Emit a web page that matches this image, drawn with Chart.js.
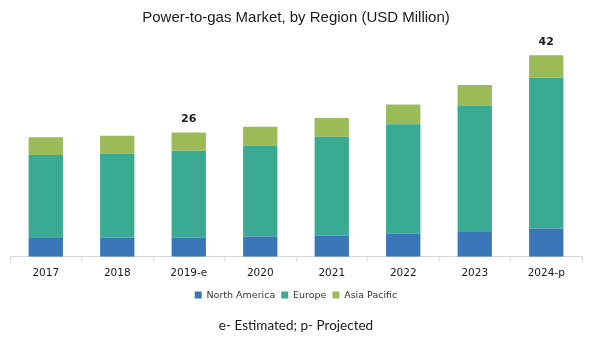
<!DOCTYPE html>
<html>
<head>
<meta charset="utf-8">
<script src="https://cdn.jsdelivr.net/npm/chart.js@4/dist/chart.umd.min.js"></script>
<style>
  html, body { margin: 0; padding: 0; background: #fff; }
  #wrap { width: 590px; height: 344px; }
</style>
</head>
<body>
<div id="wrap"><canvas id="chart"></canvas></div>
<script>
// values (USD million)
const years = ['2017', '2018', '2019-e', '2020', '2021', '2022', '2023', '2024-p'];
const northAmerica = [3.9, 4.0, 4.0, 4.2, 4.4, 4.8, 5.3, 5.9];
const europe = [17.3, 17.5, 18.1, 19.0, 20.6, 22.8, 26.2, 31.4];
const asiaPacific = [3.7, 3.7, 3.8, 3.9, 3.9, 4.1, 4.3, 4.7];
// totals printed only above 2019-e and 2024-p
const totalLabels = ['', '', '26', '', '', '', '', '42'];

// draws the total above the stacked bar
const totalsPlugin = {
  id: 'totals',
  afterDatasetsDraw(chart) {
    const ctx = chart.ctx;
    const meta = chart.getDatasetMeta(chart.data.datasets.length - 1);
    ctx.save();
    ctx.font = 'bold 11px "DejaVu Sans"';
    ctx.fillStyle = '#1a1a1a';
    ctx.textAlign = 'center';
    ctx.textBaseline = 'bottom';
    totalLabels.forEach((txt, i) => {
      if (!txt) return;
      const bar = meta.data[i];
      ctx.fillText(txt, bar.x, bar.y - 8);
    });
    ctx.restore();
  }
};

new Chart(document.getElementById('chart'), {
  type: 'bar',
  data: {
    labels: years,
    datasets: [
      { label: 'North America', data: northAmerica, backgroundColor: '#3a77b8' },
      { label: 'Europe', data: europe, backgroundColor: '#3aaa92' },
      { label: 'Asia Pacific', data: asiaPacific, backgroundColor: '#9bbb59' }
    ]
  },
  options: {
    responsive: true,
    maintainAspectRatio: false,
    animation: false,
    layout: { padding: { left: 10, right: 8, top: 4, bottom: 4 } },
    datasets: {
      bar: { categoryPercentage: 0.8, barPercentage: 0.6 }
    },
    plugins: {
      title: {
        display: true,
        text: 'Power-to-gas Market, by Region (USD Million)',
        color: '#1a1a1a',
        font: { family: '"Liberation Sans Narrow", "Liberation Sans", sans-serif', size: 15, weight: 'normal' },
        padding: { top: 5, bottom: 9 }
      },
      subtitle: {
        display: true,
        position: 'bottom',
        text: 'e- Estimated; p- Projected',
        color: '#1a1a1a',
        font: { family: 'Lato, "Open Sans", sans-serif', size: 13.5 },
        padding: { top: 8, bottom: 6 }
      },
      legend: {
        position: 'bottom',
        labels: {
          boxWidth: 7,
          boxHeight: 7,
          padding: 6,
          color: '#333',
          font: { family: '"DejaVu Sans"', size: 9.5 }
        }
      },
      tooltip: { enabled: false }
    },
    scales: {
      x: {
        stacked: true,
        grid: {
          offset: true,
          drawOnChartArea: false,
          tickLength: 5,
          color: '#d9d9d9'
        },
        border: { color: '#d9d9d9' },
        ticks: {
          color: '#1a1a1a',
          padding: 5,
          font: { family: '"DejaVu Sans"', size: 10.5 }
        }
      },
      y: {
        stacked: true,
        display: false,
        min: 0,
        max: 46
      }
    }
  },
  plugins: [totalsPlugin]
});
</script>
</body>
</html>
